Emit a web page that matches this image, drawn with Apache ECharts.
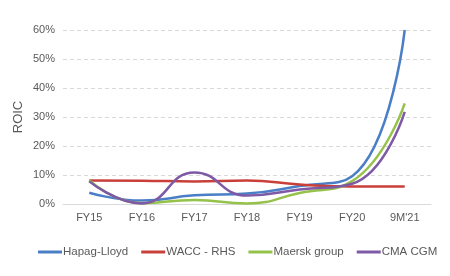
<!DOCTYPE html>
<html>
<head>
<meta charset="utf-8">
<script src="https://cdn.jsdelivr.net/npm/echarts@6/dist/echarts.min.js"></script>
<style>
  html, body { margin: 0; padding: 0; background: #fff; }
  #chart { width: 450px; height: 276px; }
</style>
</head>
<body>
<div id="chart"></div>
<script>
const categories = ['FY15', 'FY16', 'FY17', 'FY18', 'FY19', 'FY20', "9M'21"]
const hapagLloyd = [3.9, 1.2, 3.0, 3.6, 6.2, 9.6, 60]
const waccRhs = [8.1, 8.0, 7.8, 8.1, 6.7, 6.0, 6.0]
const maerskGroup = [8.1, 0.3, 1.4, 0.2, 3.8, 7.9, 34.7]
const cmaCgm = [7.8, 0.2, 10.9, 2.9, 5.0, 7.0, 31.8]

const font = '"Liberation Sans", Arial, sans-serif'
const chart = echarts.init(document.getElementById('chart'))

function line (name, data, color) {
  return {
    name: name,
    type: 'line',
    data: data,
    smooth: 0.5,
    symbol: 'none',
    lineStyle: { width: 2.5, color: color },
    itemStyle: { color: color }
  }
}

chart.setOption({
  animation: false,
  grid: { left: 63, right: 19, top: 30, bottom: 72 },
  legend: {
    top: 246,
    left: 38,
    width: 412,
    padding: 0,
    itemWidth: 24,
    itemHeight: 3,
    itemGap: 13,
    icon: 'rect',
    textStyle: { fontFamily: font, fontSize: 11.5, color: '#595959', padding: [0, 0, 0, -4] },
    data: ['Hapag-Lloyd', 'WACC - RHS', 'Maersk group', 'CMA CGM']
  },
  xAxis: {
    type: 'category',
    data: categories,
    boundaryGap: true,
    axisLine: { lineStyle: { color: '#d9d9d9', width: 1 } },
    axisTick: { show: false },
    axisLabel: { fontFamily: font, fontSize: 11, color: '#595959', margin: 8 }
  },
  yAxis: {
    type: 'value',
    min: 0,
    max: 60,
    interval: 10,
    name: 'ROIC',
    nameLocation: 'middle',
    nameGap: 38,
    nameMoveOverlap: false,
    nameTextStyle: { fontFamily: font, fontSize: 13, color: '#595959' },
    axisLine: { show: false },
    axisTick: { show: false },
    axisLabel: { fontFamily: font, fontSize: 11, color: '#595959', formatter: '{value}%', margin: 8 },
    splitLine: { lineStyle: { color: '#d9d9d9', type: [4, 3] } }
  },
  series: [
    line('Hapag-Lloyd', hapagLloyd, '#4a7ec6'),
    line('WACC - RHS', waccRhs, '#c9403a'),
    line('Maersk group', maerskGroup, '#94c24a'),
    line('CMA CGM', cmaCgm, '#7e59a5')
  ]
})
</script>
</body>
</html>
